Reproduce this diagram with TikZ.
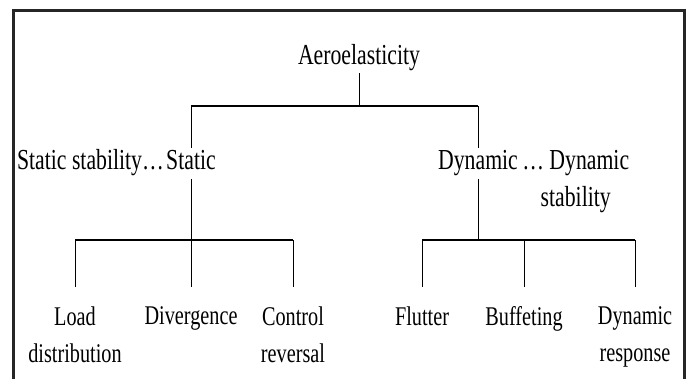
\documentclass[tikz,border=0pt]{standalone}
\usepackage{fontspec}
\setmainfont[FakeStretch=0.75]{Liberation Serif}
\tikzset{
	frame/.style={line width=3pt, black!85},
	stem/.style={line width=0.9pt},
	bar/.style={line width=2.2pt},
	title/.style={font=\fontsize{29}{37}\selectfont, inner sep=2pt, anchor=base},
	mid/.style={font=\fontsize{29}{37}\selectfont, inner xsep=0pt, inner ysep=2.2pt, text depth=6.5pt, anchor=base},
	side/.style={font=\fontsize{29}{37}\selectfont, inner sep=0pt, align=center},
	leaf/.style={font=\fontsize{27}{37}\selectfont, align=center, inner xsep=0pt, inner ysep=19.5pt, anchor=north}
}
\begin{document}
\begin{tikzpicture}[x=1pt, y=-1pt]
	\useasboundingbox (0,0) rectangle (686,379);
	\draw[frame] (13,382) -- (13,11) -- (684.5,11) -- (684.5,382);
	% top level
	\node[title] (aero) at (359,65) {Aeroelasticity};
	\node[mid] (static) at (191,170) {Static};
	\node[side, anchor=base east] (sstab) at ([xshift=-2pt]static.base west) {Static stability…};
	\node[mid] (dynamic) at (478,170) {Dynamic};
	\node[side, anchor=base west] (dstab) at ([xshift=4pt, yshift=-37pt]dynamic.base east) {… Dynamic\\stability};
	% leaves
	\node[leaf] (load) at (75,287) {Load\\distribution};
	\node[leaf] (divergence) at (191,287) {Divergence};
	\node[leaf] (control) at (293,287) {Control\\reversal};
	\node[leaf] (flutter) at (422,287) {Flutter};
	\node[leaf] (buffeting) at (524,287) {Buffeting};
	\node[leaf] (response) at (635,287) {Dynamic\\response};
	\coordinate (top) at (359,106);
	\coordinate (lowL) at (191,240);
	\coordinate (lowR) at (478,240);
	\draw[stem] (aero) -- (top);
	\draw[bar] (static |- top) -- (dynamic |- top);
	\draw[stem] (static |- top) -- (static);
	\draw[stem] (dynamic |- top) -- (dynamic);
	\draw[stem] (static) -- (lowL);
	\draw[stem] (dynamic) -- (lowR);
	\draw[bar] (load |- lowL) -- (control |- lowL);
	\draw[bar] (flutter |- lowR) -- (response |- lowR);
	\foreach \n in {load, divergence, control}
		\draw[stem] (\n |- lowL) -- (\n);
	\foreach \n in {flutter, buffeting, response}
		\draw[stem] (\n |- lowR) -- (\n);
\end{tikzpicture}
\end{document}
